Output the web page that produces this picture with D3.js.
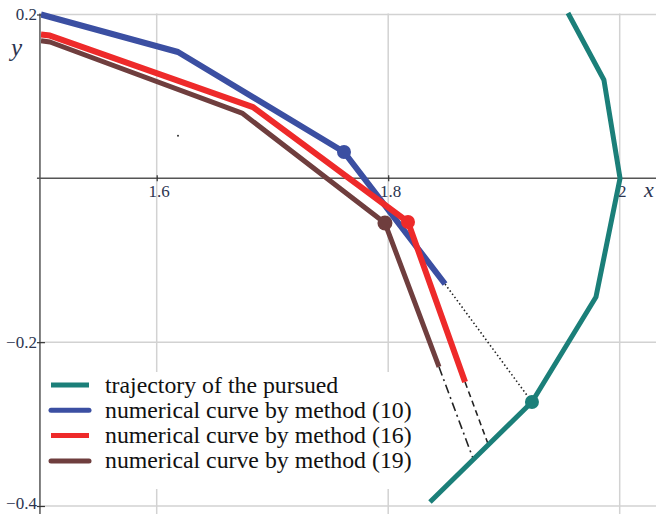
<!DOCTYPE html>
<html>
<head>
<meta charset="utf-8">
<script src="https://cdn.jsdelivr.net/npm/d3@7"></script>
</head>
<body style="margin:0">
<svg id="chart" width="656" height="514"></svg>
<script>
// ---------- data ----------
const pursuedX = [1.9553, 1.9864, 2.0003, 1.9795, 1.9242, 1.8361];
const pursuedY = [0.2018, 0.1200, 0.0000, -0.1449, -0.2731, -0.3951];

const m10X = [1.5000, 1.6184, 1.7618, 1.8491];
const m10Y = [0.2000, 0.1542, 0.0321, -0.1290];

const m16X = [1.5000, 1.5078, 1.6832, 1.8171, 1.8664];
const m16Y = [0.1757, 0.1743, 0.0870, -0.0533, -0.2487];

const m19X = [1.5000, 1.5078, 1.6737, 1.7972, 1.8439];
const m19Y = [0.1680, 0.1664, 0.0797, -0.0546, -0.2303];

// marked points
const markX = { pursued: 1.9242, m10: 1.7618, m16: 1.8171, m19: 1.7972 };
const markY = { pursued: -0.2731, m10: 0.0321, m16: -0.0533, m19: -0.0546 };

// connecting segments: end of numerical curve -> pursued trajectory
const linkFromX = [1.8491, 1.8664, 1.8439];
const linkFromY = [-0.1290, -0.2487, -0.2303];
const linkToX = [1.9242, 1.8862, 1.8733];
const linkToY = [-0.2731, -0.3240, -0.3420];

const strayX = [1.6184];
const strayY = [0.0520];

const xTicks = [1.6, 1.8, 2];
const yTicks = [0.2, -0.2, -0.4];

const legendLabels = [
  "trajectory of the pursued",
  "numerical curve by method (10)",
  "numerical curve by method (16)",
  "numerical curve by method (19)"
];

// ---------- styles ----------
const C = { pursued: "#1b7f79", m10: "#3b4fa2", m16: "#ee2a2a", m19: "#6f3e3e" };
const FONT = "Liberation Serif";
const W = 656, H = 514;

const svg = d3.select("#chart");
const x = d3.scaleLinear().domain([1.6, 2]).range([156.7, 619.7]);
const y = d3.scaleLinear().domain([0.2, -0.4]).range([14.5, 506]);

const x0 = x(1.5), y0 = y(0);

// clip
svg.append("defs").append("clipPath").attr("id", "plotclip")
  .append("rect").attr("x", x0).attr("y", y(0.2) - 4).attr("width", W - x0).attr("height", H);

// grid
const grid = svg.append("g");
grid.selectAll("line.v").data(xTicks).join("line")
  .attr("x1", d => x(d)).attr("x2", d => x(d))
  .attr("y1", y(0.2) - 1).attr("y2", H)
  .attr("stroke", "#d2d2d2").attr("stroke-width", 1.5);
grid.selectAll("line.h").data(yTicks).join("line")
  .attr("x1", x0).attr("x2", W)
  .attr("y1", d => y(d)).attr("y2", d => y(d))
  .attr("stroke", "#d2d2d2").attr("stroke-width", 1.5);

// legend background (covers grid)
svg.append("rect").attr("x", x0 + 1).attr("y", 372).attr("width", 380).attr("height", 117).attr("fill", "#fff");

// axes
const xAxis = d3.axisBottom(x).tickValues(xTicks)
  .tickFormat(d => d === 2 ? "2" : d3.format(".1f")(d)).tickSize(4).tickPadding(6);
const gx = svg.append("g").attr("transform", `translate(0,${y0})`).call(xAxis);
gx.attr("font-family", FONT).attr("font-size", 17);
gx.select(".domain").remove();
gx.insert("line", ":first-child").attr("x1", x0 - 4).attr("x2", W).attr("y1", 0).attr("y2", 0)
  .attr("stroke", "#555").attr("stroke-width", 1.5);
gx.selectAll(".tick line").attr("y1", -3).attr("y2", 3).attr("stroke", "#333").attr("stroke-width", 1.2);
gx.selectAll(".tick text").attr("fill", "#2c3550").attr("y", 7).attr("dx", 2)
  .attr("font-family", FONT).attr("font-size", 17);

const yAxis = d3.axisLeft(y).tickValues(yTicks)
  .tickFormat(d => (d < 0 ? "\u2212" : "") + d3.format(".1f")(Math.abs(d))).tickSize(4).tickPadding(0);
const gy = svg.append("g").attr("transform", `translate(${x0},0)`).call(yAxis);
gy.attr("font-family", FONT).attr("font-size", 17);
gy.select(".domain").remove();
gy.insert("line", ":first-child").attr("x1", -1).attr("x2", -1).attr("y1", y(0.2) - 1).attr("y2", H)
  .attr("stroke", "#555").attr("stroke-width", 1.5);
gy.selectAll(".tick line").attr("x1", -4).attr("x2", 4).attr("stroke", "#333").attr("stroke-width", 1.2);
gy.selectAll(".tick text").attr("fill", "#2c3550").attr("font-family", FONT).attr("font-size", 17)
  .attr("dy", d => d === -0.4 ? "0.15em" : "0.32em");

// axis names
svg.append("text").attr("x", 11).attr("y", 56).attr("font-family", FONT).attr("font-style", "italic")
  .attr("font-size", 25).attr("fill", "#2c3550").text("y");
svg.append("text").attr("x", 644).attr("y", 197).attr("font-family", FONT).attr("font-style", "italic")
  .attr("font-size", 22).attr("fill", "#2c3550").text("x");

// curves
const plot = svg.append("g").attr("clip-path", "url(#plotclip)");
const line = d3.line().x(d => x(d[0])).y(d => y(d[1]));
const zip = (a, b) => a.map((v, i) => [v, b[i]]);

// connecting lines
const linkDash = ["1.5,2.5", "6,4", "9,4,2,4"];
linkFromX.forEach((v, i) => {
  plot.append("line")
    .attr("x1", x(v)).attr("y1", y(linkFromY[i]))
    .attr("x2", x(linkToX[i])).attr("y2", y(linkToY[i]))
    .attr("stroke", "#222").attr("stroke-width", 1.6)
    .attr("stroke-dasharray", linkDash[i]);
});

const series = [
  { k: "pursued", xs: pursuedX, ys: pursuedY, w: 5 },
  { k: "m19", xs: m19X, ys: m19Y, w: 5 },
  { k: "m10", xs: m10X, ys: m10Y, w: 6 },
  { k: "m16", xs: m16X, ys: m16Y, w: 6 }
];
series.forEach(s => {
  plot.append("path").attr("d", line(zip(s.xs, s.ys)))
    .attr("fill", "none").attr("stroke", C[s.k]).attr("stroke-width", s.w)
    .attr("stroke-linejoin", "round").attr("stroke-linecap", "butt");
});

["pursued", "m10", "m19", "m16"].forEach(k => {
  plot.append("circle").attr("cx", x(markX[k])).attr("cy", y(markY[k]))
    .attr("r", k === "m19" ? 7.5 : 7).attr("fill", C[k]);
});

plot.selectAll("circle.stray").data(zip(strayX, strayY)).join("circle")
  .attr("cx", d => x(d[0])).attr("cy", d => y(d[1])).attr("r", 1).attr("fill", "#333");

// legend
const legKeys = ["pursued", "m10", "m16", "m19"];
const leg = svg.append("g");
legKeys.forEach((k, i) => {
  const cy = 385 + i * 25.3;
  leg.append("line").attr("x1", 51).attr("x2", 89).attr("y1", cy).attr("y2", cy)
    .attr("stroke", C[k]).attr("stroke-width", 5).attr("stroke-linecap", k === "m19" || k === "m10" ? "round" : "butt");
  leg.append("text").attr("x", 105).attr("y", cy + 7.5)
    .attr("font-family", FONT).attr("font-size", 23.8).attr("fill", "#111").text(legendLabels[i]);
});
</script>
</body>
</html>
